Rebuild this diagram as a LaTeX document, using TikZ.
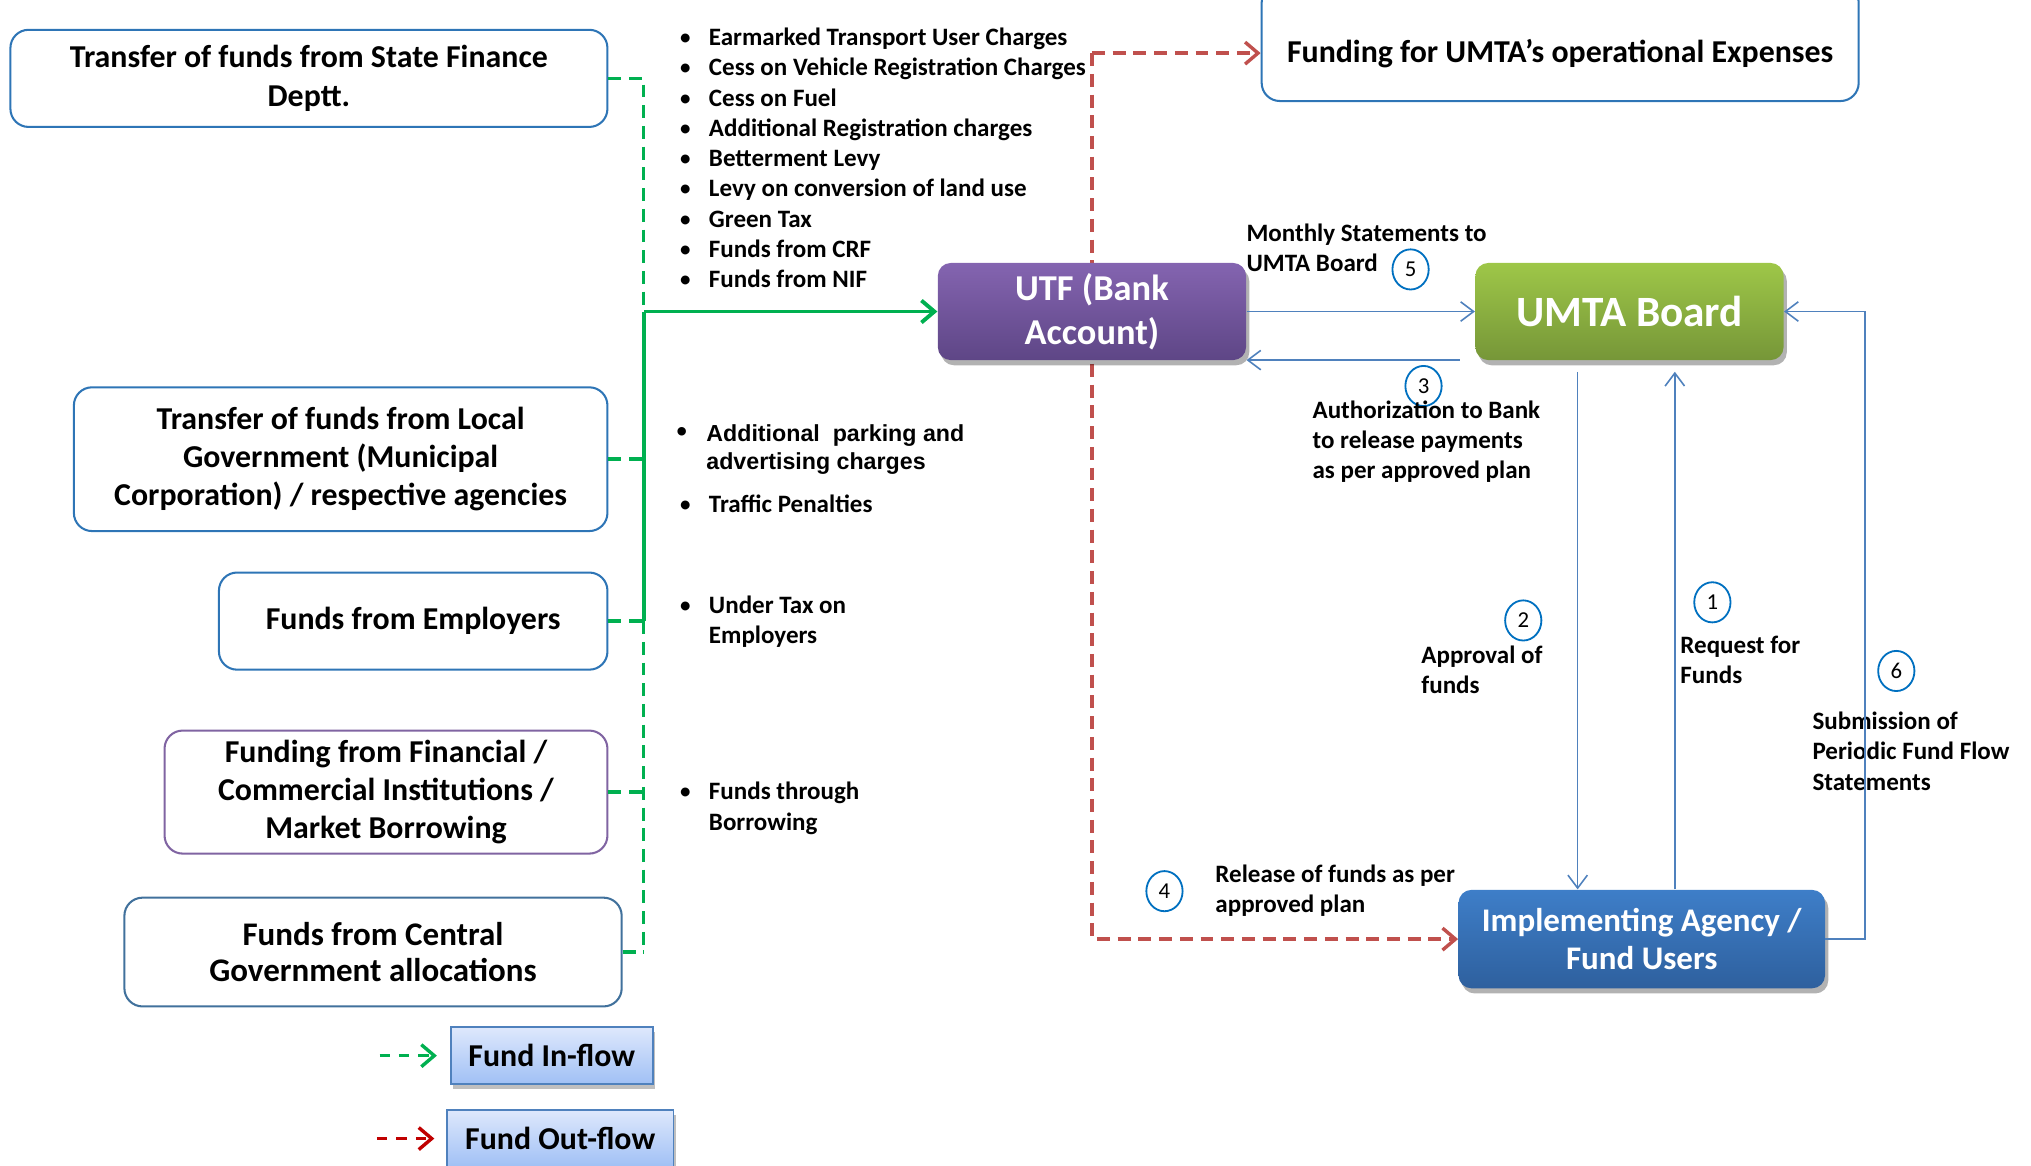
\documentclass[tikz,border=0pt]{standalone}
\usepackage{fontspec}
\setmainfont{Carlito}
\newfontfamily\arialbold{Liberation Sans}
\usetikzlibrary{positioning,arrows.meta,shapes.geometric,shadows}

\pgfdeclarelayer{back}
\pgfsetlayers{back,main}

\definecolor{srcblue}{RGB}{46,117,182}
\definecolor{srcpurple}{RGB}{128,100,162}
\definecolor{srcgrey}{RGB}{65,113,156}
\definecolor{inflowgreen}{RGB}{0,176,80}
\definecolor{outflowred}{RGB}{192,80,77}
\definecolor{legendred}{RGB}{192,0,0}
\definecolor{linkblue}{RGB}{79,129,189}
\definecolor{numblue}{RGB}{0,112,192}
\definecolor{utftop}{RGB}{132,100,176}
\definecolor{utfbot}{RGB}{94,70,134}
\definecolor{umtatop}{RGB}{158,199,72}
\definecolor{umtabot}{RGB}{118,150,56}
\definecolor{impltop}{RGB}{62,126,200}
\definecolor{implbot}{RGB}{46,96,158}
\definecolor{keytop}{RGB}{222,232,252}
\definecolor{keybot}{RGB}{160,192,245}

\newcommand{\bul}{\makebox[0.46cm][l]{\normalfont\textbullet}}

\tikzset{
  srcbox/.style={draw=srcblue, line width=0.9pt, rounded corners=0.28cm, fill=white,
    align=center, inner sep=0pt, font=\fontsize{14}{16.8}\selectfont\bfseries},
  mainbox/.style={rounded corners=0.2cm, align=center, inner sep=0pt, text=white,
    drop shadow={shadow xshift=0.05cm, shadow yshift=-0.08cm, opacity=0.3, fill=black}},
  keybox/.style={draw=linkblue, line width=0.8pt, top color=keytop, bottom color=keybot,
    inner sep=0pt, font=\fontsize{14}{16.8}\selectfont\bfseries,
    drop shadow={shadow xshift=0.04cm, shadow yshift=-0.08cm, opacity=0.25, fill=black}},
  txt/.style={align=left, inner sep=0pt, anchor=west, font=\fontsize{11}{13.3}\selectfont\bfseries},
  num/.style={ellipse, draw=numblue, line width=0.8pt, minimum width=0.56cm,
    minimum height=0.62cm, inner sep=0pt, font=\fontsize{10}{12}\selectfont},
  link/.style={draw=linkblue, line width=0.7pt, -{Straight Barb[length=0.2cm,width=0.3cm]}},
  inflow/.style={draw=inflowgreen, line width=1.5pt, dash pattern=on 0.2cm off 0.12cm},
  outflow/.style={draw=outflowred, line width=1.5pt, dash pattern=on 0.2cm off 0.12cm,
    -{Straight Barb[length=0.2cm,width=0.34cm]}},
}

\begin{document}
\begin{tikzpicture}[x=0.02cm,y=-0.02cm]
\useasboundingbox (0,0) rectangle (1568,900);

% sources of funds
\node[srcbox, minimum width=9.22cm, minimum height=1.5cm] (state) at (238.5,60.5) {Transfer of funds from State Finance\\Deptt.};
\node[srcbox, minimum width=8.24cm, minimum height=2.22cm] (local) at (263,354.5) {Transfer of funds from Local\\Government (Municipal\\Corporation) / respective agencies};
\node[srcbox, minimum width=6cm, minimum height=1.5cm] (employ) at (319,479.5) {Funds from Employers};
\node[srcbox, draw=srcpurple, minimum width=6.84cm, minimum height=1.9cm] (market) at (298,611.5) {Funding from Financial /\\Commercial Institutions /\\Market Borrowing};
\node[srcbox, draw=srcgrey, minimum width=7.68cm, minimum height=1.68cm, font=\fontsize{14.5}{15.4}\selectfont\bfseries] (central) at (288,735) {Funds from Central\\Government allocations};

% fund heads
\node[txt] (listtop) at (524,122) {\bul Earmarked Transport User Charges\\\bul Cess on Vehicle Registration Charges\\\bul Cess on Fuel\\\bul Additional Registration charges\\\bul Betterment Levy\\\bul Levy on conversion of land use\\\bul Green Tax\\\bul Funds from CRF\\\bul Funds from NIF};
\node[txt, font=\arialbold\fontsize{10.2}{12.4}\selectfont\bfseries] (listpark) at (522,347) {\makebox[0.46cm][l]{\fontsize{13}{12}\selectfont\textbullet}Additional\ \ parking and\\\hspace*{0.46cm}advertising charges};
\node[txt] (listfine) at (524,389) {\bul Traffic Penalties};
\node[txt] (listemp) at (524,480) {\bul Under Tax on\\\hspace*{0.46cm}Employers};
\node[txt] (listborrow) at (524,624) {\bul Funds through\\\hspace*{0.46cm}Borrowing};

% fund and agencies
\node[srcbox, minimum width=9.22cm, minimum height=1.8cm] (opex) at (1204.5,33) {\raisebox{-0.3cm}[0pt][0pt]{Funding for UMTA’s operational Expenses}};
\node[mainbox, top color=utftop, bottom color=utfbot, minimum width=4.76cm, minimum height=1.5cm, font=\fontsize{16}{19.3}\selectfont\bfseries] (utf) at (843,240.5) {UTF (Bank\\Account)};
\node[mainbox, top color=umtatop, bottom color=umtabot, minimum width=4.76cm, minimum height=1.5cm, font=\fontsize{19}{22}\selectfont\bfseries] (umta) at (1258,240.5) {UMTA Board};
\node[mainbox, top color=impltop, bottom color=implbot, minimum width=5.66cm, minimum height=1.52cm, font=\fontsize{14.5}{16.5}\selectfont\bfseries] (impl) at (1267.5,725) {Implementing Agency /\\Fund Users};

% steps
\node[num] (n1) at (1322,465) {1};
\node[num] (n2) at (1176,479) {2};
\node[num] (n3) at (1099,298) {3};
\node[num] (n4) at (899,688) {4};
\node[num] (n5) at (1089,208) {5};
\node[num] (n6) at (1464,518) {6};
\node[txt] (lmonthly) at (962,191.5) {Monthly Statements to\\UMTA Board};
\node[txt] (lauth) at (1013,341) {Authorization to Bank\\to release payments\\as per approved plan};
\node[txt] (lapprove) at (1097,517) {Approval of\\funds};
\node[txt] (lrequest) at (1297,509.5) {Request for\\Funds};
\node[txt] (lsubmit) at (1399,580) {Submission of\\Periodic Fund Flow\\Statements};
\node[txt] (lrelease) at (938,687.5) {Release of funds as per\\approved plan};

% key
\node[keybox, minimum width=3.12cm, minimum height=0.88cm] (keyin) at (426,815) {Fund In-flow};
\node[keybox, minimum width=3.5cm, minimum height=0.88cm] (keyout) at (432.5,879) {Fund Out-flow};

% in-flow
\coordinate (gjoin) at (497,240.5);
\coordinate (gemp) at (497,479.5);
\coordinate (gend) at (497,735);
\draw[inflow] (state.east) -| (gjoin);
\draw[inflow] (local.east) -- (local.east -| gjoin);
\draw[inflow] (employ.east) -- (gemp);
\draw[inflow] (gemp) -- (gend);
\draw[inflow] (market.east) -- (market.east -| gjoin);
\draw[inflow] (central.east) -- (gend);
\draw[inflowgreen, line width=1.7pt] (gemp) -- (gjoin);
\draw[inflowgreen, line width=1.7pt, -{Straight Barb[length=0.2cm,width=0.34cm]}] (gjoin) -- (utf.west);

% out-flow
\coordinate (rtop) at (843,41);
\begin{pgfonlayer}{back}
\draw[outflow] (rtop) -- (opex.west |- rtop);
\draw[outflow] (rtop) |- (impl.west);
\end{pgfonlayer}

% approvals
\coordinate (authstart) at (1127,278);
\coordinate (apprtop) at (1218,287);
\coordinate (reqtop) at (1293,287);
\coordinate (subcorner) at (1440,240.5);
\draw[link] (utf.east) -- (umta.west);
\draw[link] (authstart) -- (authstart -| utf.east);
\draw[link] (apprtop) -- (apprtop |- impl.north);
\draw[link] (reqtop |- impl.north) -- (reqtop);
\draw[link] (impl.east) -| (subcorner) -- (umta.east);

% key arrows
\coordinate (keyinstart) at (293,815);
\coordinate (keyoutstart) at (291,879);
\draw[inflow, dash pattern=on 0.16cm off 0.14cm, -{Straight Barb[length=0.2cm,width=0.34cm]}, shorten >=0.2cm] (keyinstart) -- (keyin.west);
\draw[outflow, draw=legendred, dash pattern=on 0.16cm off 0.14cm, shorten >=0.18cm] (keyoutstart) -- (keyout.west);
\end{tikzpicture}
\end{document}
